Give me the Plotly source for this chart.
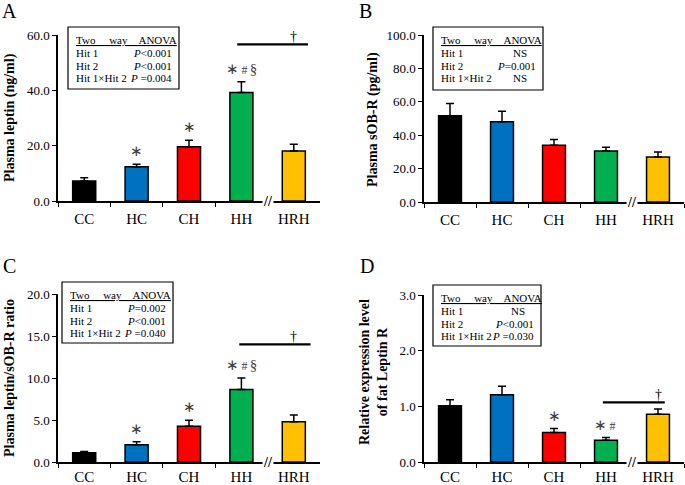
import plotly.graph_objects as go

W, H = 685, 485
SERIF = "Liberation Serif, Times New Roman, serif"

groups = ["CC", "HC", "CH", "HH", "HRH"]
bar_colors = ["#000000", "#0070C0", "#FF0000", "#00B050", "#FFC000"]

# A: plasma leptin (ng/ml)
leptin = [7.2, 12.4, 19.6, 39.2, 18.1]
leptin_err = [1.2, 0.9, 2.4, 3.9, 2.4]
leptin_marks = ["", "∗", "∗", "∗#§", ""]
leptin_anova = [("Hit 1", "<i>P</i>&lt;0.001"), ("Hit 2", "<i>P</i>&lt;0.001"),
                ("Hit 1×Hit 2", "<i>P</i> =0.004")]

# B: plasma sOB-R (pg/ml)
sobr = [51.6, 48.0, 34.0, 30.6, 27.0]
sobr_err = [7.4, 6.4, 3.4, 2.2, 3.0]
sobr_marks = ["", "", "", "", ""]
sobr_anova = [("Hit 1", "NS"), ("Hit 2", "<i>P</i>=0.001"), ("Hit 1×Hit 2", "NS")]

# C: leptin / sOB-R ratio
ratio = [1.1, 2.05, 4.27, 8.62, 4.78]
ratio_err = [0.15, 0.36, 0.71, 1.38, 0.83]
ratio_marks = ["", "∗", "∗", "∗#§", ""]
ratio_anova = [("Hit 1", "<i>P</i>=0.002"), ("Hit 2", "<i>P</i>&lt;0.001"),
               ("Hit 1×Hit 2", "<i>P</i> =0.040")]

# D: relative expression of fat leptin receptor
lepr = [1.01, 1.21, 0.53, 0.39, 0.86]
lepr_err = [0.11, 0.15, 0.07, 0.05, 0.09]
lepr_marks = ["", "", "∗", "∗#", ""]
lepr_anova = [("Hit 1", "NS"), ("Hit 2", "<i>P</i>&lt;0.001"), ("Hit 1×Hit 2", "<i>P</i> =0.030")]

# HH vs HRH comparison bar (start, end, level)
dagger_lines = {"A": (2.92, 4.27, 56.6), "C": (2.96, 4.32, 14.0), "D": (2.94, 4.13, 1.07)}


def px_x(v):
    return v / W


def px_y(v):
    return 1 - v / H


panels = [
    dict(key="A", vals=leptin, errs=leptin_err, marks=leptin_marks, anova=leptin_anova,
         yrange=[0, 60], dtick=20, title="Plasma leptin (ng/ml)",
         dom_x=(58, 320), dom_y=(35, 201), box=(68, 179, 27, 89), title_pos=(10, 118),
         letter_pos=(9, 11), standoff=3),
    dict(key="B", vals=sobr, errs=sobr_err, marks=sobr_marks, anova=sobr_anova,
         yrange=[0, 100], dtick=20, title="Plasma sOB-R (pg/ml)",
         dom_x=(424, 684), dom_y=(35, 202), box=(433, 543, 27, 90), title_pos=(373, 120),
         letter_pos=(365, 11), standoff=3),
    dict(key="C", vals=ratio, errs=ratio_err, marks=ratio_marks, anova=ratio_anova,
         yrange=[0, 20], dtick=5, title="Plasma leptin/sOB-R ratio",
         dom_x=(58, 320), dom_y=(294, 462), box=(62, 173, 282, 343), title_pos=(9, 378),
         letter_pos=(9, 266), standoff=0),
    dict(key="D", vals=lepr, errs=lepr_err, marks=lepr_marks, anova=lepr_anova,
         yrange=[0, 3], dtick=1, title="Relative expression level<br>of fat Leptin R",
         dom_x=(424, 684), dom_y=(295, 462), box=(433, 541, 285, 346), title_pos=(373, 372),
         letter_pos=(367, 266), standoff=0),
]

fig = go.Figure()
annotations = []
shapes = []

for i, p in enumerate(panels):
    n = "" if i == 0 else str(i + 1)
    xa, ya = "x" + n, "y" + n
    fig.add_trace(go.Bar(
        x=groups, y=p["vals"], xaxis=xa, yaxis=ya, width=0.44,
        marker=dict(color=bar_colors, line=dict(color="black", width=1.5)),
        error_y=dict(type="data", array=p["errs"], arrayminus=[0] * 5, symmetric=False,
                     color="black", thickness=1.5, width=4),
        showlegend=False,
    ))
    axis_common = dict(showline=True, linecolor="black", linewidth=1.5, ticks="outside",
                       ticklen=4, tickcolor="black", tickwidth=1.2, showgrid=False,
                       zeroline=False, automargin=False)
    fig.update_layout({
        "xaxis" + n: dict(axis_common, domain=[px_x(p["dom_x"][0]), px_x(p["dom_x"][1])],
                          anchor=ya, type="category", tickson="boundaries", range=[-0.5, 4.5],
                          ticklabelstandoff=p["standoff"],
                          tickfont=dict(family=SERIF, size=15, color="black")),
        "yaxis" + n: dict(axis_common, domain=[px_y(p["dom_y"][1]), px_y(p["dom_y"][0])],
                          anchor=xa, range=p["yrange"], dtick=p["dtick"], tickformat=".1f",
                          tickfont=dict(family=SERIF, size=13, color="black")),
    })

    # axis break between HH and HRH
    annotations.append(dict(xref=xa, yref=ya, x=3.5, y=0, text="<b>//</b>", showarrow=False,
                            bgcolor="white", font=dict(family=SERIF, size=14, color="black"),
                            xanchor="center", yanchor="middle", borderpad=0))

    # significance marks
    for j, m in enumerate(p["marks"]):
        if not m:
            continue
        txt = m.replace("#", "<span style='font-size:12px'>&#8201;#&#8201;</span>")
        annotations.append(dict(xref=xa, yref=ya, x=j, y=p["vals"][j] + p["errs"][j],
                                text=txt, showarrow=False, yanchor="bottom", yshift=3,
                                font=dict(family=SERIF, size=15, color="#404040")))

    if p["key"] in dagger_lines:
        x0, x1, yl = dagger_lines[p["key"]]
        shapes.append(dict(type="line", xref=xa, yref=ya, x0=x0, x1=x1, y0=yl, y1=yl,
                           line=dict(color="black", width=2.2)))
        annotations.append(dict(xref=xa, yref=ya, x=4, y=yl, text="†", showarrow=False,
                                yanchor="bottom", yshift=-2,
                                font=dict(family=SERIF, size=14, color="black")))

    # y-axis title
    annotations.append(dict(xref="paper", yref="paper", x=px_x(p["title_pos"][0]),
                            y=px_y(p["title_pos"][1]), text="<b>" + p["title"] + "</b>",
                            textangle=-90, showarrow=False, xanchor="center", yanchor="middle",
                            font=dict(family=SERIF, size=14, color="black")))
    # panel letter
    annotations.append(dict(xref="paper", yref="paper", x=px_x(p["letter_pos"][0]),
                            y=px_y(p["letter_pos"][1]), text=p["key"], showarrow=False,
                            xanchor="center", yanchor="middle",
                            font=dict(family=SERIF, size=20, color="black")))

    # ANOVA table
    bx0, bx1, by0, by1 = p["box"]
    shapes.append(dict(type="rect", xref="paper", yref="paper", x0=px_x(bx0), x1=px_x(bx1),
                       y0=px_y(by1), y1=px_y(by0), line=dict(color="black", width=1.2),
                       fillcolor="white", layer="above"))
    tl, tr = bx0 + 6, bx1 - 5
    tfont = dict(family=SERIF, size=11, color="black")
    annotations.append(dict(xref="paper", yref="paper", x=px_x(tl), y=px_y(by0 + 12.5),
                            text="<u>Two&nbsp;&nbsp;&nbsp;&nbsp;&nbsp;way&nbsp;&nbsp;&nbsp;&nbsp;ANOVA</u>",
                            showarrow=False, xanchor="left", yanchor="middle", font=tfont))
    for r, (lab, val) in enumerate(p["anova"]):
        yy = px_y(by0 + 26 + 12.6 * r)
        annotations.append(dict(xref="paper", yref="paper", x=px_x(tl), y=yy, text=lab,
                                showarrow=False, xanchor="left", yanchor="middle", font=tfont))
        shift = -9 if val == "NS" else 0
        annotations.append(dict(xref="paper", yref="paper", x=px_x(tr + shift), y=yy, text=val,
                                showarrow=False, xanchor="right", yanchor="middle", font=tfont))

fig.update_layout(
    width=W, height=H, margin=dict(l=0, r=0, t=0, b=0),
    paper_bgcolor="white", plot_bgcolor="white", bargap=0.56,
    annotations=annotations, shapes=shapes,
    font=dict(family=SERIF, color="black"),
)

fig.write_html("out.html", config={"displayModeBar": False},
               post_script="document.body.style.margin='0px';")
